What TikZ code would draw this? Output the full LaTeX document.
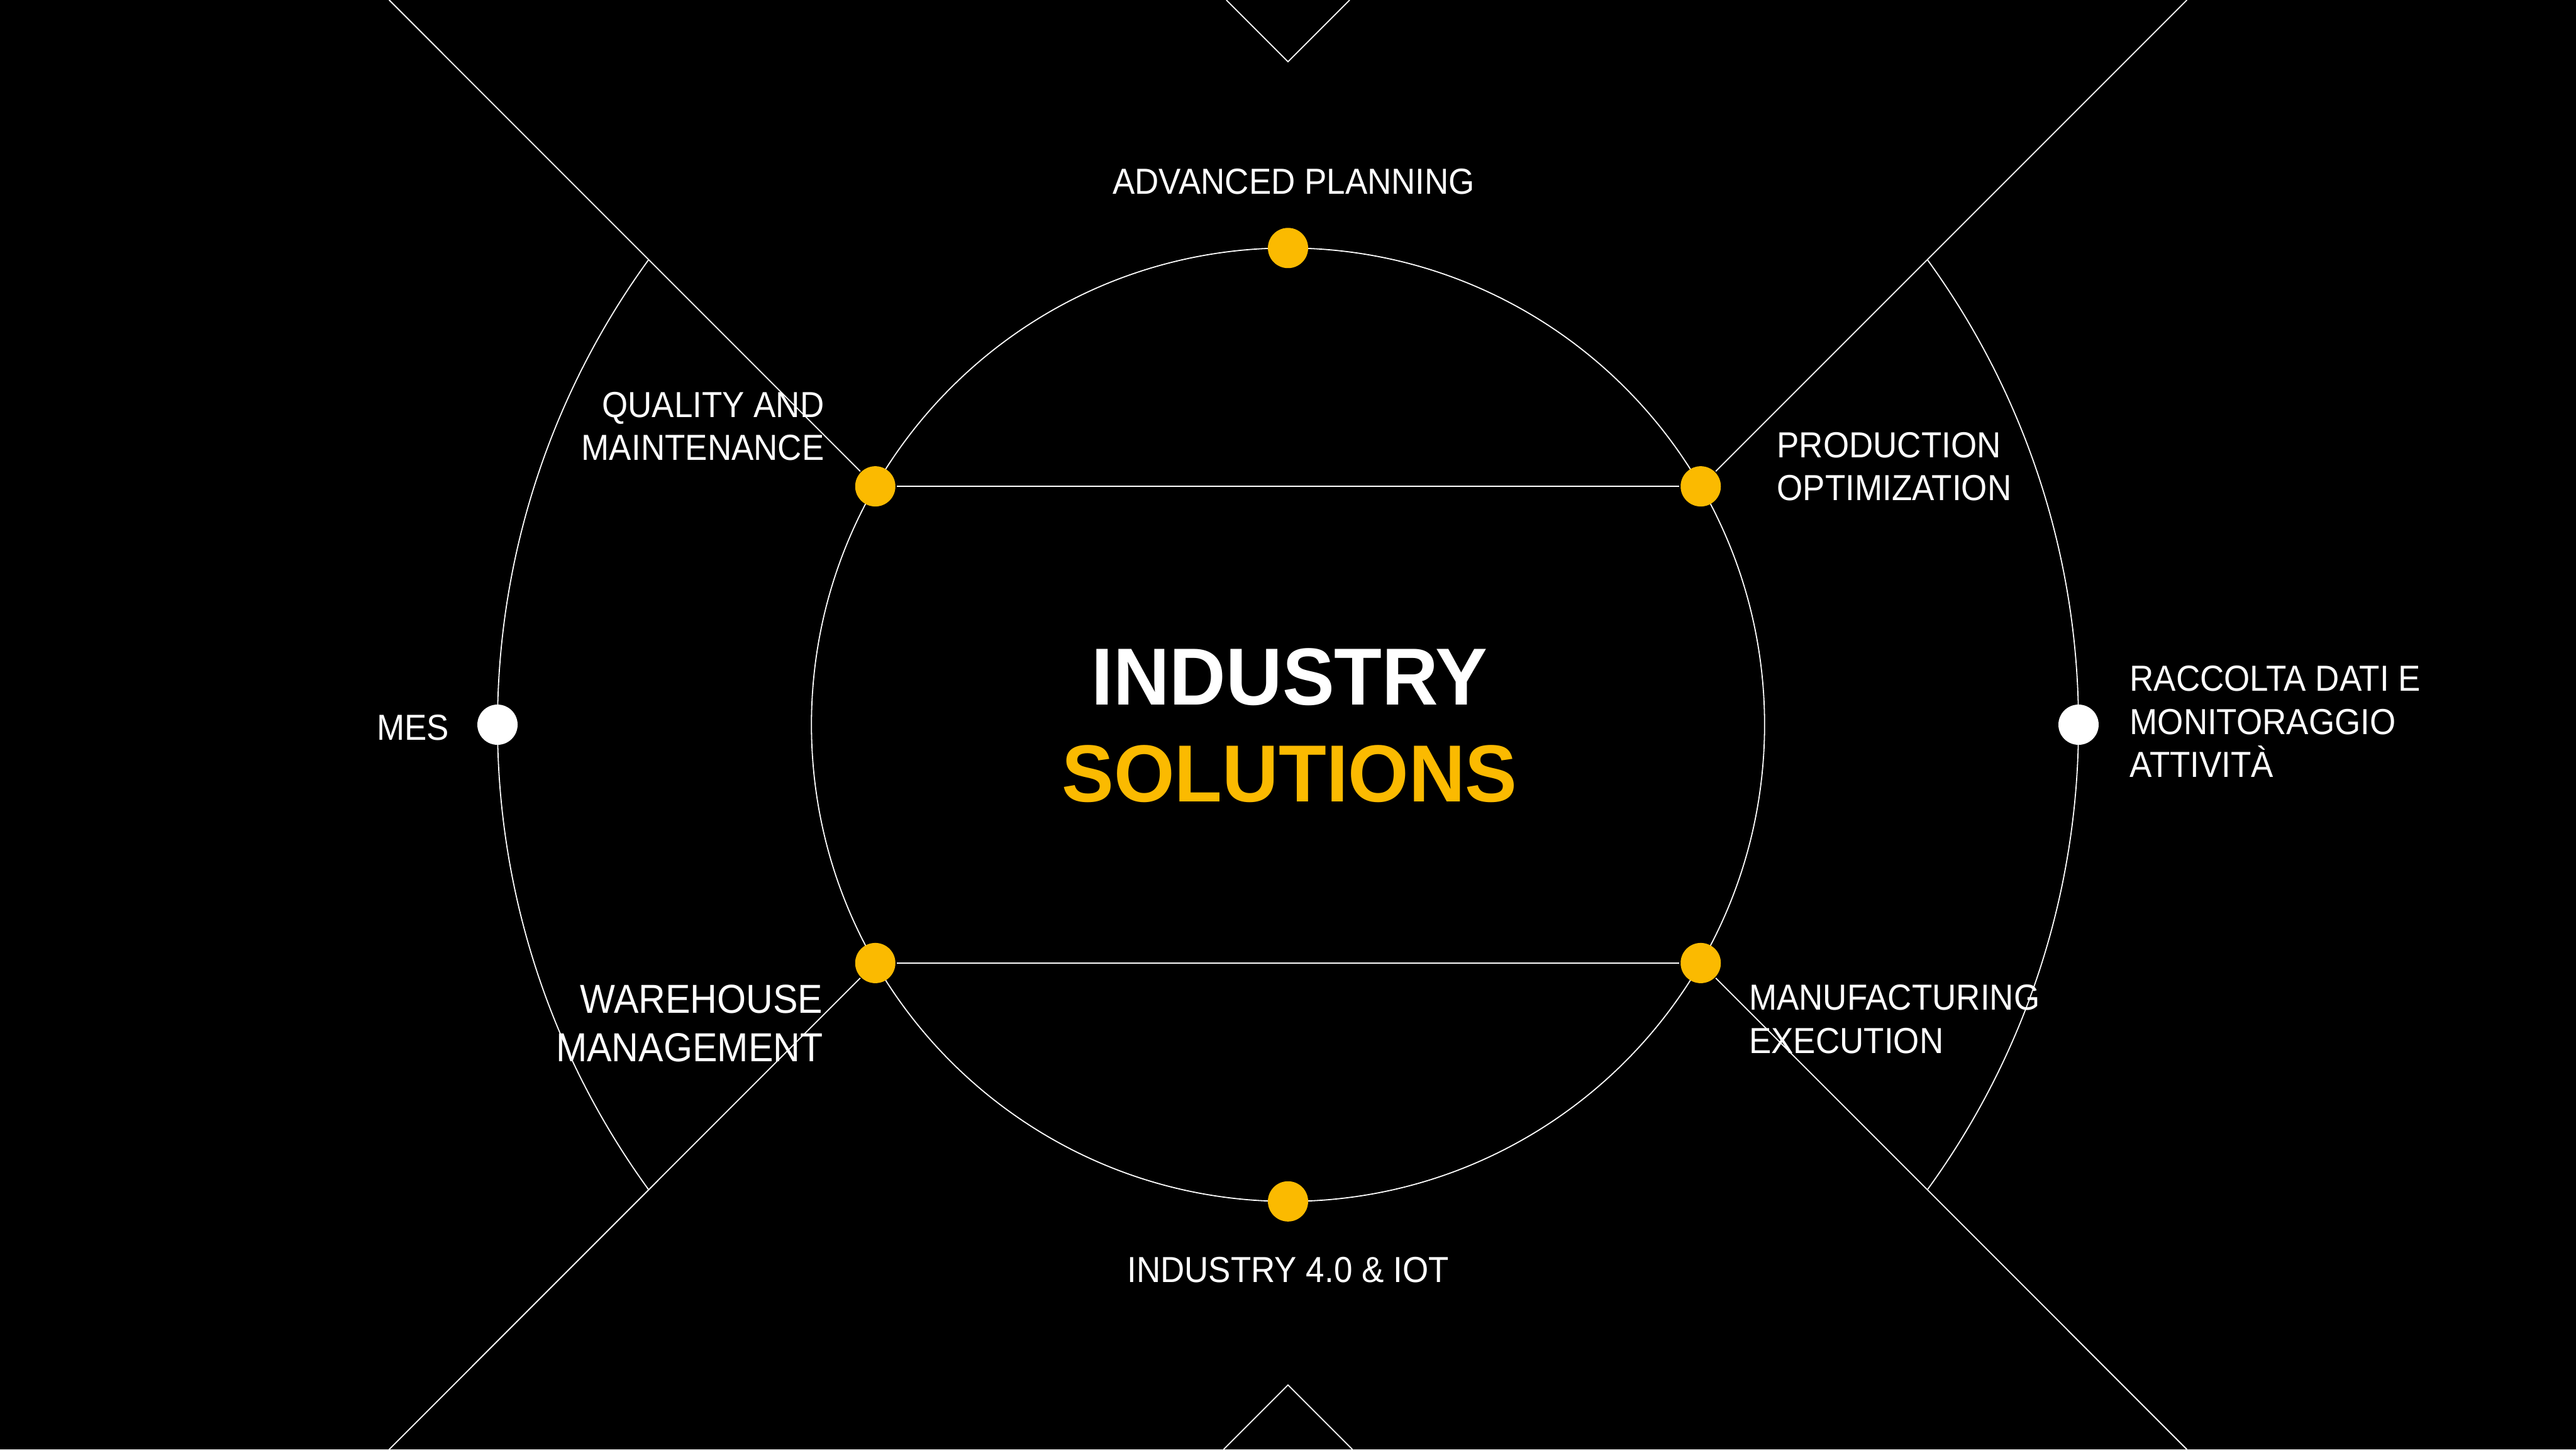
\documentclass[tikz,border=0pt]{standalone}
\usepackage{fontspec}
\setmainfont{Liberation Sans}[FakeStretch=0.92]
\newfontfamily\titlefont{Liberation Sans}[FakeStretch=0.965]
\definecolor{brand}{HTML}{FBBA00}

\begin{document}
\begin{tikzpicture}[thinline/.style={draw=white, line width=0.2pt},
  yellowdot/.style={circle, fill=brand, inner sep=0pt, minimum size=2.5mm},
  whitedot/.style={circle, fill=white, inner sep=0pt, minimum size=2.5mm},
  txt/.style={text=white, inner sep=0pt, font=\fontsize{6.4}{7.6}\selectfont}]
\fill[black] (-8,-4.5) rectangle (8,4.5);
\useasboundingbox (-8,-4.5) rectangle (8,4.5);
% rings
\draw[thinline] (0,0) circle (2.96);
\draw[thinline] (144:4.91) arc[start angle=144, end angle=216, radius=4.91];
\draw[thinline] (-36:4.91) arc[start angle=-36, end angle=36, radius=4.91];
% notches at top and bottom
\draw[thinline] (-0.383,4.5) -- (0,4.117) -- (0.383,4.5);
\draw[thinline] (-0.4,-4.5) -- (0,-4.1) -- (0.4,-4.5);
% dots
\node[yellowdot] (AP) at (90:2.96) {};
\node[yellowdot] (PO) at (30:2.96) {};
\node[yellowdot] (ME) at (-30:2.96) {};
\node[yellowdot] (IO) at (-90:2.96) {};
\node[yellowdot] (WM) at (210:2.96) {};
\node[yellowdot] (QM) at (150:2.96) {};
\node[whitedot] (MES) at (180:4.91) {};
\node[whitedot] (RD) at (0:4.91) {};
\coordinate (TL) at (-5.583,4.5);
\coordinate (TR) at (5.583,4.5);
\coordinate (BL) at (-5.583,-4.5);
\coordinate (BR) at (5.583,-4.5);
\draw[thinline] (QM) -- (PO);
\draw[thinline] (WM) -- (ME);
\draw[thinline] (QM) -- (TL);
\draw[thinline] (PO) -- (TR);
\draw[thinline] (WM) -- (BL);
\draw[thinline] (ME) -- (BR);
% labels
\node[txt, anchor=base] (tAP) at (0.036,3.296) {ADVANCED PLANNING};
\node[txt, anchor=north east, align=right] (tQM) at (-2.874,2.072) {QUALITY AND\\MAINTENANCE};
\node[txt, anchor=north west, align=left] (tPO) at (3.03,1.824) {PRODUCTION\\OPTIMIZATION};
\node[txt, anchor=north east, align=right, font=\fontsize{7.15}{8.5}\selectfont] (tWM) at (-2.882,-1.61) {WAREHOUSE\\MANAGEMENT};
\node[txt, anchor=north west, align=left] (tME) at (2.857,-1.608) {MANUFACTURING\\EXECUTION};
\node[txt, anchor=north west, align=left] (tRD) at (5.222,0.372) {RACCOLTA DATI E\\MONITORAGGIO\\ATTIVITÀ};
\node[txt, anchor=base east] (tMES) at (-5.203,-0.094) {MES};
\node[txt, anchor=base] (tIO) at (0,-3.464) {INDUSTRY 4.0 \& IOT};
\node[txt, anchor=north, align=center, font=\titlefont\bfseries\fontsize{14.3}{17.07}\selectfont] (title) at (0.01,0.48) {INDUSTRY\\\textcolor{brand}{SOLUTIONS}};
\end{tikzpicture}
\end{document}
